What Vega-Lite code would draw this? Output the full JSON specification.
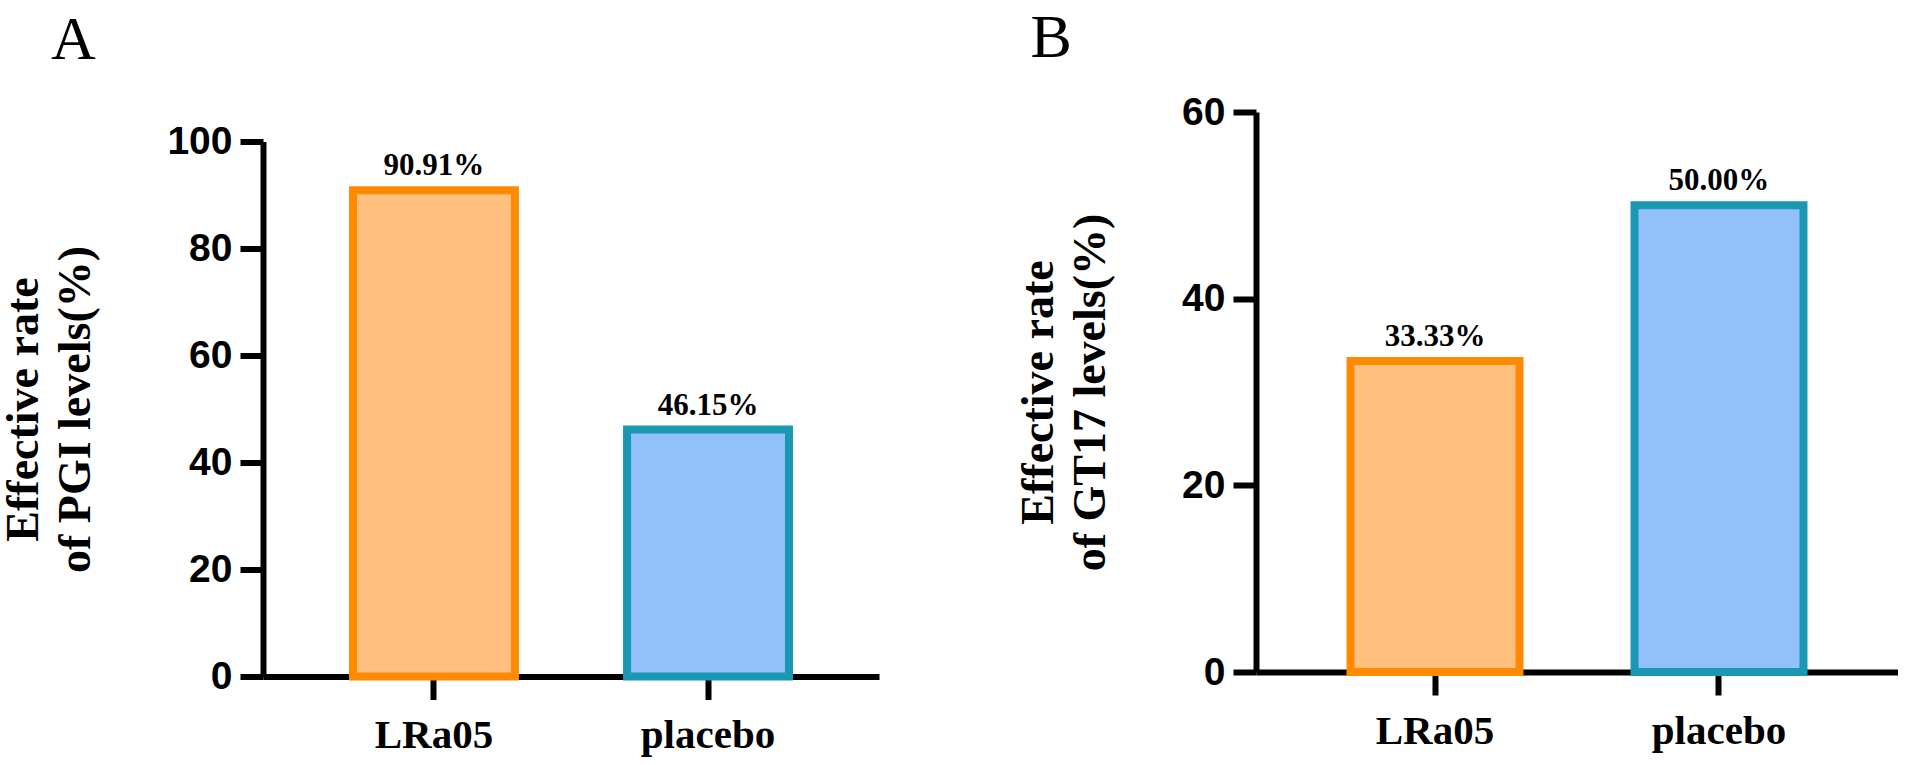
{
  "$schema": "https://vega.github.io/schema/vega-lite/v6.json",
  "padding": {"left": 0, "top": 7, "right": 0, "bottom": 0},
  "background": "white",
  "center": true,
  "config": {
    "view": {"stroke": null},
    "concat": {"spacing": 136},
    "title": {"font": "Liberation Serif", "fontSize": 62, "fontWeight": "normal", "color": "black", "anchor": "start"},
    "axis": {
      "domainColor": "black", "domainWidth": 6, "tickColor": "black", "tickWidth": 6,
      "labelColor": "black", "titleColor": "black", "grid": false
    },
    "axisX": {
      "tickSize": 23, "labelPadding": 16, "labelFont": "Liberation Serif", "labelFontWeight": "bold",
      "labelFontSize": 41, "labelAngle": 0, "title": null
    },
    "axisY": {
      "tickSize": 23, "labelPadding": 8, "labelFont": "Liberation Sans", "labelFontWeight": "bold",
      "labelFontSize": 39, "titleFont": "Liberation Serif", "titleFontWeight": "bold", "titleFontSize": 46,
      "titleLineHeight": 52, "titlePadding": 67
    }
  },
  "hconcat": [
    {
      "title": {"text": "A", "dx": 50, "offset": 51},
      "width": 616,
      "height": 535,
      "data": {"values": [
        {"group": "LRa05", "rate": 90.91, "label": "90.91%"},
        {"group": "placebo", "rate": 46.15, "label": "46.15%"}
      ]},
      "encoding": {
        "x": {"field": "group", "type": "nominal", "sort": null,
              "scale": {"paddingInner": 0.409, "paddingOuter": 0.3285}},
        "y": {"field": "rate", "type": "quantitative",
              "scale": {"domain": [0, 100], "nice": false},
              "axis": {"values": [0, 20, 40, 60, 80, 100], "title": ["Effective rate", "of PGI levels(%)"]}}
      },
      "layer": [
        {"mark": {"type": "bar", "strokeWidth": 8},
         "encoding": {
           "fill": {"field": "group", "type": "nominal", "scale": {"domain": ["LRa05", "placebo"], "range": ["#FFC080", "#92C0F8"]}, "legend": null},
           "stroke": {"field": "group", "type": "nominal", "scale": {"domain": ["LRa05", "placebo"], "range": ["#FF8A00", "#1A98B2"]}, "legend": null}
         }},
        {"mark": {"type": "text", "baseline": "alphabetic", "dy": -15, "font": "Liberation Serif", "fontWeight": "bold", "fontSize": 31, "color": "black"},
         "encoding": {"text": {"field": "label"}}}
      ]
    },
    {
      "title": {"text": "B", "dx": 15, "offset": 23},
      "width": 642,
      "height": 560,
      "data": {"values": [
        {"group": "LRa05", "rate": 33.33, "label": "33.33%"},
        {"group": "placebo", "rate": 50.0, "label": "50.00%"}
      ]},
      "encoding": {
        "x": {"field": "group", "type": "nominal", "sort": null,
              "scale": {"paddingInner": 0.405, "paddingOuter": 0.3328},
              "axis": {"title": " ", "titleFontSize": 26, "titlePadding": 8}},
        "y": {"field": "rate", "type": "quantitative",
              "scale": {"domain": [0, 60], "nice": false},
              "axis": {"values": [0, 20, 40, 60], "title": ["Effective rate", "of GT17 levels(%)"]}}
      },
      "layer": [
        {"mark": {"type": "bar", "strokeWidth": 8},
         "encoding": {
           "fill": {"field": "group", "type": "nominal", "scale": {"domain": ["LRa05", "placebo"], "range": ["#FFC080", "#92C0F8"]}, "legend": null},
           "stroke": {"field": "group", "type": "nominal", "scale": {"domain": ["LRa05", "placebo"], "range": ["#FF8A00", "#1A98B2"]}, "legend": null}
         }},
        {"mark": {"type": "text", "baseline": "alphabetic", "dy": -15, "font": "Liberation Serif", "fontWeight": "bold", "fontSize": 31, "color": "black"},
         "encoding": {"text": {"field": "label"}}}
      ]
    }
  ]
}
